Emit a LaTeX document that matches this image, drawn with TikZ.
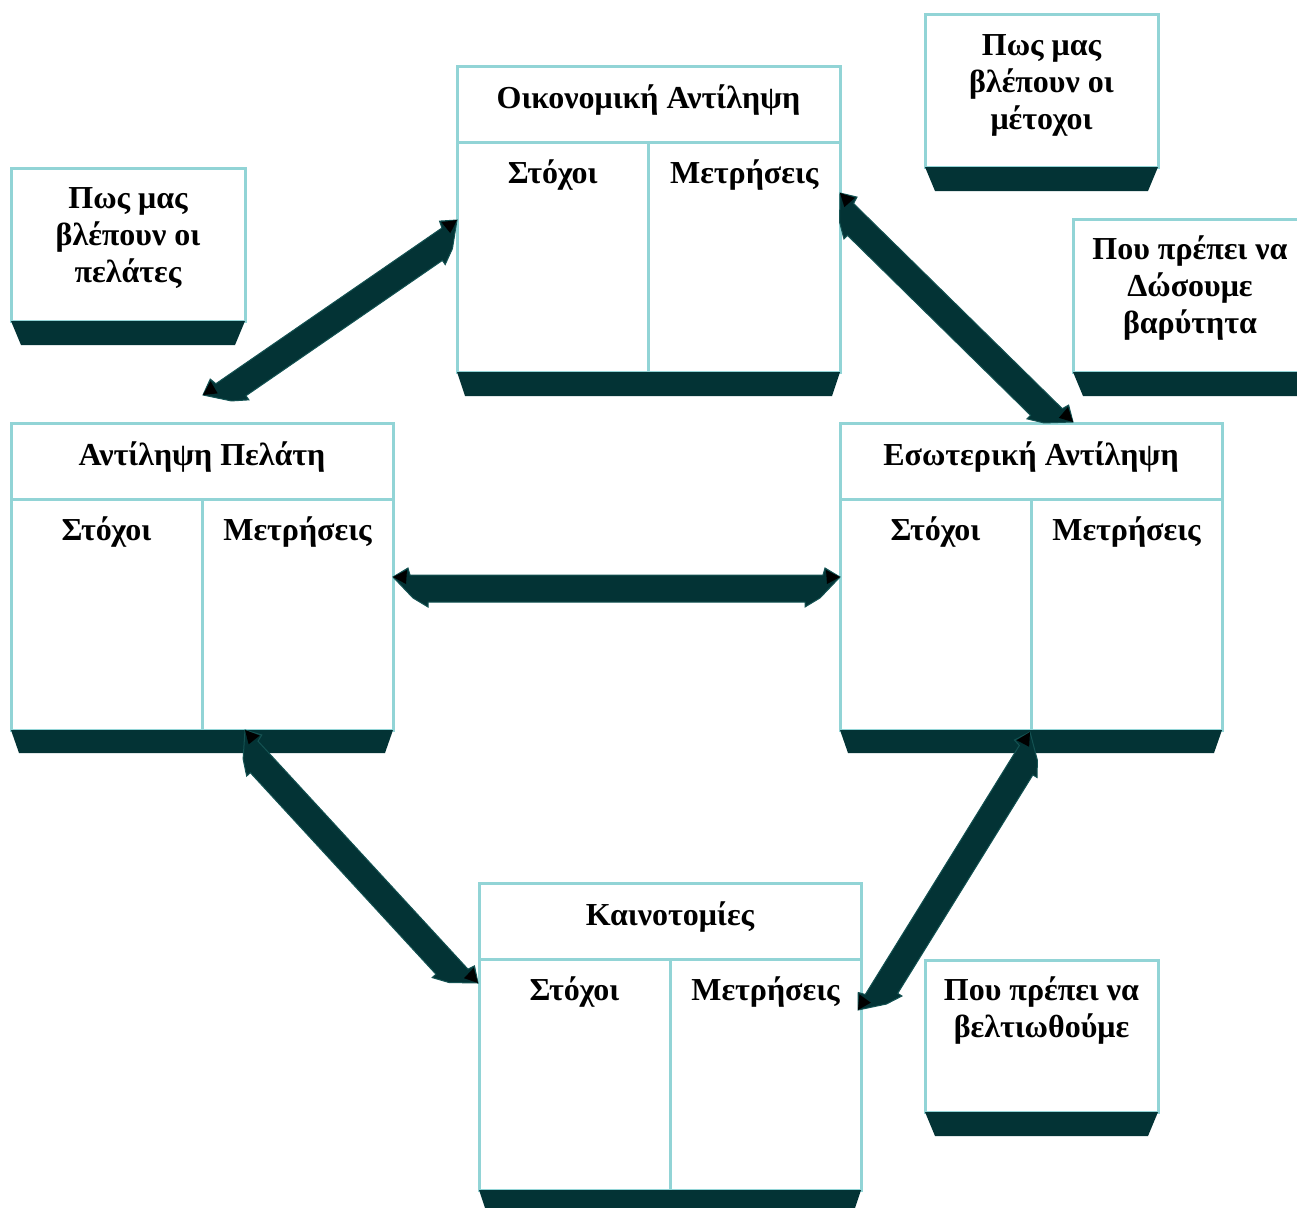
\documentclass[tikz,border=0pt]{standalone}
\usepackage{fontspec}
\setmainfont{Liberation Serif}
\usetikzlibrary{calc}

\definecolor{rim}{RGB}{146,212,214}
\definecolor{basecol}{RGB}{3,51,53}
\definecolor{arrowedge}{RGB}{20,82,82}

\tikzset{
  panel/.style={draw=rim, line width=3pt, fill=white, inner sep=0pt, outer sep=0pt, anchor=north west},
  divider/.style={draw=rim, line width=3pt},
  label/.style={font=\fontsize{32}{37}\selectfont\bfseries, inner sep=0pt, anchor=base},
  note/.style={font=\fontsize{32}{37}\selectfont\bfseries, inner sep=0pt, anchor=north, align=center},
  arrowbody/.style={fill=basecol, draw=arrowedge, line width=1pt, line join=miter},
  arrowtip/.style={fill=black},
}

% dark slab under a panel: #1 panel name, #2 inset of the lower edge, #3 depth
\newcommand\slab[3]{%
  \fill[basecol] (#1.south west) -- (#1.south east) -- ($(#1.south east)+(-#2,#3)$)
    -- ($(#1.south west)+(#2,#3)$) -- cycle;}

% four-part panel: title row and two columns
\newcommand\quadpanel[5]{%
  \draw[divider] ($(#1.north west)+(0,76)$) -- ($(#1.north east)+(0,76)$);
  \draw[divider] ($(#1.north)+(0,76)$) -- (#1.south);
  \node[label] (#1-title) at ($(#1.north)+(0,42)$) {#2};
  \node[label] (#1-goals) at ($(#1.north west)!0.25!(#1.north east)+(0,117)$) {#3};
  \node[label] (#1-meas) at ($(#1.north west)!0.75!(#1.north east)+(0,117)$) {#4};}

% broad double-headed arrow from #1 to #2; the shaft sits to the right of the tip line
\newcommand\fatarrow[2]{%
  \filldraw[arrowbody] let \p1=($(#2)-(#1)$), \n1={atan2(\y1,\x1)} in
    (#1)
    -- ($(#1)+(\n1:15pt)+(\n1-90:-9pt)$)
    -- ($(#1)+(\n1:17pt)+(\n1-90:-2pt)$)
    -- ($(#2)+(\n1:-17pt)+(\n1-90:-2pt)$)
    -- ($(#2)+(\n1:-15pt)+(\n1-90:-9pt)$)
    -- (#2)
    -- ($(#2)+(\n1:-20pt)+(\n1-90:21pt)$)
    -- ($(#2)+(\n1:-35pt)+(\n1-90:30pt)$)
    -- ($(#2)+(\n1:-35pt)+(\n1-90:25pt)$)
    -- ($(#1)+(\n1:35pt)+(\n1-90:25pt)$)
    -- ($(#1)+(\n1:35pt)+(\n1-90:30pt)$)
    -- ($(#1)+(\n1:20pt)+(\n1-90:21pt)$)
    -- cycle;
  \fill[arrowtip] let \p1=($(#2)-(#1)$), \n1={atan2(\y1,\x1)} in
    (#1) -- ($(#1)+(\n1:14pt)+(\n1-90:-7pt)$) -- ($(#1)+(\n1:13pt)+(\n1-90:7pt)$) -- cycle
    (#2) -- ($(#2)+(\n1:-14pt)+(\n1-90:-7pt)$) -- ($(#2)+(\n1:-13pt)+(\n1-90:7pt)$) -- cycle;}

\begin{document}
\begin{tikzpicture}[x=1pt, y=-1pt]
  \useasboundingbox (0,0) rectangle (1297,1207);

  % the four perspective panels
  \node[panel, minimum width=383pt, minimum height=306pt] (fin) at (457,66) {};
  \node[panel, minimum width=382pt, minimum height=307pt] (cust) at (11,423) {};
  \node[panel, minimum width=382pt, minimum height=307pt] (int) at (840,423) {};
  \node[panel, minimum width=382pt, minimum height=307pt] (inno) at (479,883) {};

  % the four question cards
  \node[panel, minimum width=234pt, minimum height=153pt] (qcust) at (11,168) {};
  \node[panel, minimum width=233pt, minimum height=152pt] (qshare) at (925,15) {};
  \node[panel, minimum width=234pt, minimum height=153pt] (qfocus) at (1073,219) {};
  \node[panel, minimum width=233pt, minimum height=152pt] (qimprove) at (925,960) {};

  \slab{fin}{8}{24}
  \slab{cust}{8}{23}
  \slab{int}{8}{23}
  \slab{inno}{8}{24}
  \slab{qcust}{10}{24}
  \slab{qshare}{10}{24}
  \slab{qfocus}{10}{24}
  \slab{qimprove}{10}{24}

  \quadpanel{fin}{Οικονομική Αντίληψη}{Στόχοι}{Μετρήσεις}{}
  \quadpanel{cust}{Αντίληψη Πελάτη}{Στόχοι}{Μετρήσεις}{}
  \quadpanel{int}{Εσωτερική Αντίληψη}{Στόχοι}{Μετρήσεις}{}
  \quadpanel{inno}{Καινοτομίες}{Στόχοι}{Μετρήσεις}{}

  \node[note] (qcust-t) at ($(qcust.north)+(0,19)$) {Πως μας\\βλέπουν οι\\πελάτες};
  \node[note] (qshare-t) at ($(qshare.north)+(0,19)$) {Πως μας\\βλέπουν οι\\μέτοχοι};
  \node[note] (qfocus-t) at ($(qfocus.north)+(0,17)$) {Που πρέπει να\\Δώσουμε\\βαρύτητα};
  \node[note] (qimprove-t) at ($(qimprove.north)+(0,17)$) {Που πρέπει να\\βελτιωθούμε};

  % arrow ends on the panels
  \coordinate (c-east) at ($(cust.north east)+(0,154)$);
  \coordinate (i-west) at ($(int.north west)+(0,154)$);
  \coordinate (c-top) at ($(cust.north west)+(192,-28)$);
  \coordinate (f-west) at ($(fin.north west)+(0,154)$);
  \coordinate (f-east) at ($(fin.north east)+(0,127)$);
  \coordinate (i-top) at ($(int.north west)+(233,-1)$);
  \coordinate (c-bottom) at ($(cust.south west)+(234,0)$);
  \coordinate (n-west) at ($(inno.north west)+(-1,100)$);
  \coordinate (n-east) at ($(inno.north east)+(-3,127)$);
  \coordinate (i-bottom) at ($(int.south west)+(190,2)$);

  \fatarrow{c-east}{i-west}
  \fatarrow{c-top}{f-west}
  \fatarrow{f-east}{i-top}
  \fatarrow{c-bottom}{n-west}
  \fatarrow{n-east}{i-bottom}
\end{tikzpicture}
\end{document}
